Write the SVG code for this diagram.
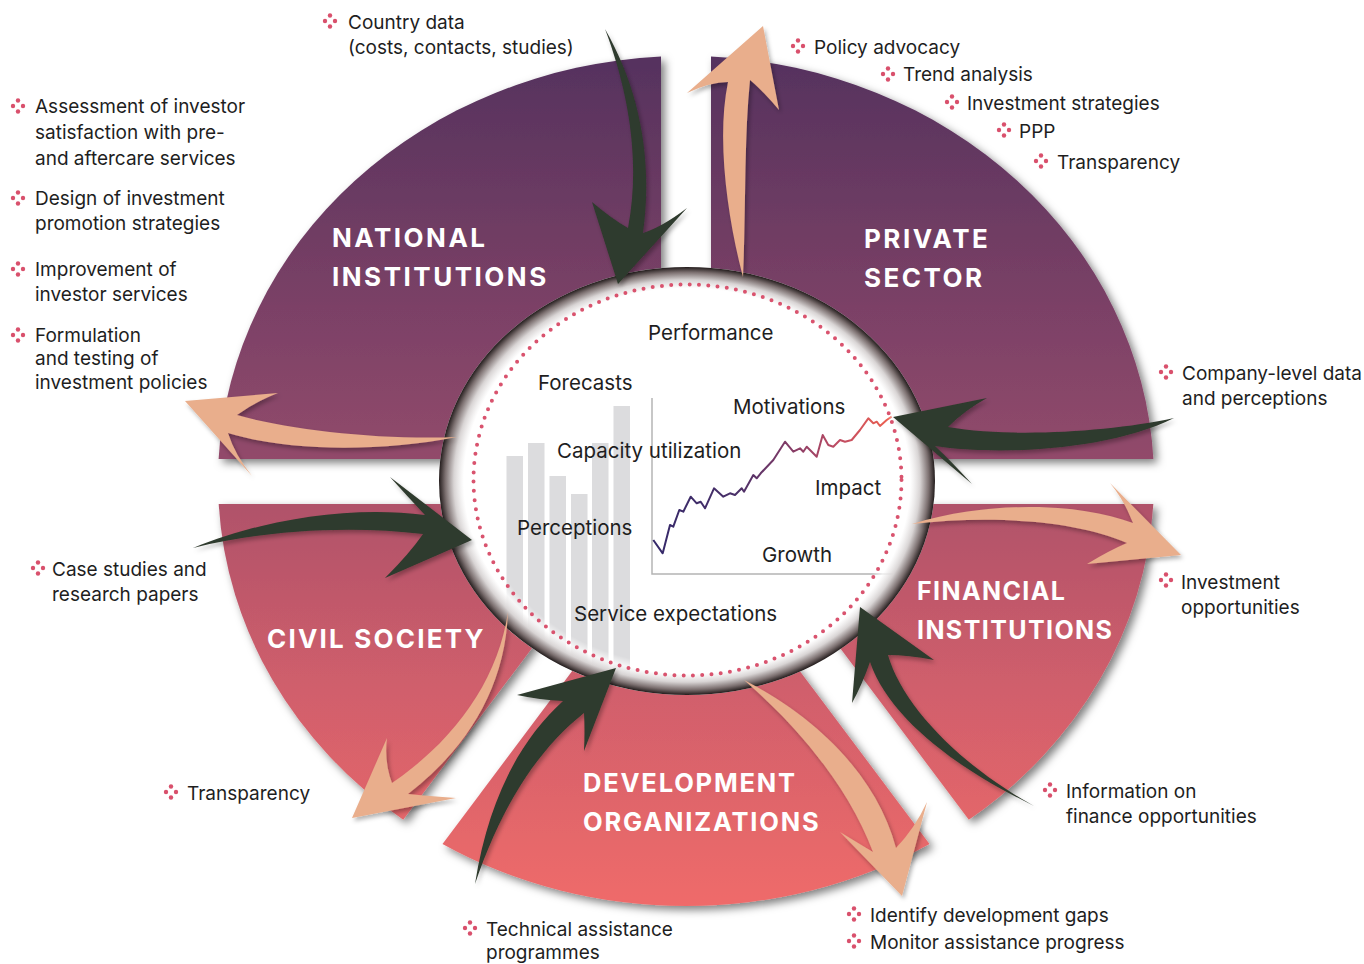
<svg xmlns="http://www.w3.org/2000/svg" width="1364" height="964" viewBox="0 0 1364 964">
<style>
.t{font-family:Inter,"Liberation Sans",sans-serif;font-size:19px;fill:#1e1e1e}
.c{font-family:Inter,"Liberation Sans",sans-serif;font-size:20.5px;fill:#1e1e1e}
.h{font-family:Inter,"Liberation Sans",sans-serif;font-size:26px;font-weight:700;fill:#ffffff;letter-spacing:2.5px}
.hs{font-size:25px;letter-spacing:1.4px}
.hd{font-size:25.5px;letter-spacing:1.8px}
.sec{fill:url(#sg);filter:url(#sh)}
.dk{fill:#2f3a2d;filter:url(#ash)}
.pc{fill:#e9ae8c;filter:url(#ash)}
.bar{fill:#dcdcde}
</style>
<defs>
<linearGradient id="sg" gradientUnits="userSpaceOnUse" x1="0" y1="55" x2="0" y2="905">
<stop offset="0" stop-color="#55325e"/>
<stop offset="0.476" stop-color="#924a6b"/>
<stop offset="0.529" stop-color="#b0526a"/>
<stop offset="0.75" stop-color="#d15f6c"/>
<stop offset="1" stop-color="#ef6b6a"/>
</linearGradient>
<filter id="sh" x="-10%" y="-10%" width="130%" height="130%">
<feDropShadow dx="4" dy="4" stdDeviation="4" flood-color="#000" flood-opacity="0.5"/>
</filter>
<filter id="ash" x="-20%" y="-20%" width="140%" height="140%">
<feDropShadow dx="2" dy="3" stdDeviation="2" flood-color="#000" flood-opacity="0.3"/>
</filter>
<radialGradient id="ring" cx="0.5" cy="0.5" r="0.5">
<stop offset="0" stop-color="#fff" stop-opacity="0"/>
<stop offset="0.86" stop-color="#fff" stop-opacity="0"/>
<stop offset="0.9" stop-color="#fff" stop-opacity="0.75"/>
<stop offset="0.94" stop-color="#d8d4d4"/>
<stop offset="0.975" stop-color="#7c7070"/>
<stop offset="1" stop-color="#231c1c"/>
</radialGradient>
<linearGradient id="lg" gradientUnits="userSpaceOnUse" x1="653" y1="0" x2="892" y2="0">
<stop offset="0" stop-color="#35296a"/>
<stop offset="0.35" stop-color="#4a3068"/>
<stop offset="0.55" stop-color="#7d3a67"/>
<stop offset="0.78" stop-color="#c04c62"/>
<stop offset="1" stop-color="#ef6250"/>
</linearGradient>
<clipPath id="cc"><ellipse cx="687" cy="481" rx="248" ry="214"/></clipPath>
<g id="bul" fill="#d9506c"><circle cx="0" cy="-5.5" r="2.2"/><circle cx="-5" cy="0" r="2.2"/><circle cx="5" cy="0" r="2.2"/><circle cx="0" cy="5.5" r="2.2"/></g>
</defs>
<rect width="1364" height="964" fill="#ffffff"/>

<g id="national">
<path class="sec" d="M661,459 L661,56.6 A468,425 0 0 0 218.6,459 Z"/>
<text class="h" x="332" y="247">NATIONAL</text>
<text class="h" x="332" y="286">INSTITUTIONS</text>
</g>
<g id="private">
<path class="sec" d="M711,459 L711,56.6 A468,425 0 0 1 1153.4,459 Z"/>
<text class="h" x="864" y="248">PRIVATE</text>
<text class="h" x="864" y="287">SECTOR</text>
</g>
<g id="civil">
<path class="sec" d="M640,504 L218.7,504 A468,425 0 0 0 403.2,819.7 Z"/>
<text class="h" x="267" y="648" style="letter-spacing:2.2px">CIVIL SOCIETY</text>
</g>
<g id="development">
<path class="sec" d="M686,519.3 L442.5,843.9 A468,425 0 0 0 929.5,843.9 Z"/>
<text class="h hd" x="583" y="792">DEVELOPMENT</text>
<text class="h hd" x="583" y="831">ORGANIZATIONS</text>
</g>
<g id="financial">
<path class="sec" d="M732,504 L1153.3,504 A468,425 0 0 1 968.8,819.7 Z"/>
<text class="h hs" x="917" y="600">FINANCIAL</text>
<text class="h hs" x="917" y="639">INSTITUTIONS</text>
</g>

<g id="hub">
<ellipse cx="687" cy="481" rx="248" ry="214" fill="#ffffff"/>
<g clip-path="url(#cc)">
<rect class="bar" x="506.5" y="456" width="16.5" height="260"/>
<rect class="bar" x="528" y="443" width="16.5" height="270"/>
<rect class="bar" x="549.5" y="476" width="16.5" height="240"/>
<rect class="bar" x="571" y="494" width="16.5" height="220"/>
<rect class="bar" x="592" y="443" width="16.5" height="270"/>
<rect class="bar" x="613.5" y="406" width="16.5" height="310"/>
<path d="M652,398 V574 H910" fill="none" stroke="#b4b4b4" stroke-width="1.5"/>
</g>
<polyline fill="none" stroke="url(#lg)" stroke-width="2" stroke-linejoin="round" points="653.3,540 662.7,553.3 670,525 673.3,526.7 679.3,510 683.3,511.7 690.7,496.7 696.7,503.3 700.7,501.7 705,508.3 714,488.3 723.3,496.7 730,493.3 735,495 741.7,488.3 744,491.7 753.3,475 756.7,478.3 760.7,473.3 773.3,460 785,441.7 793.3,451.7 800,448.3 803.3,451.7 806.7,446.7 810,450 816.7,456.7 822.7,435 828.3,445 833.3,446.7 840,440 845,441.7 851.7,440 860,430 868.3,418.3 873.3,423.3 876.7,421.7 880,426 886.7,420 891.7,416.7"/>
<ellipse cx="687" cy="481" rx="248" ry="214" fill="url(#ring)"/>
<ellipse cx="687.5" cy="480" rx="214" ry="195.5" fill="none" stroke="#d9536e" stroke-width="4" stroke-linecap="round" stroke-dasharray="0 9.3"/>
<text class="c" x="648" y="340">Performance</text>
<text class="c" x="538" y="390">Forecasts</text>
<text class="c" x="733" y="414">Motivations</text>
<text class="c" x="557" y="458">Capacity utilization</text>
<text class="c" x="815" y="495">Impact</text>
<text class="c" x="517" y="535">Perceptions</text>
<text class="c" x="762" y="562">Growth</text>
<text class="c" x="574" y="621">Service expectations</text>
</g>

<g id="connectors">
<path class="dk" d="M605,29 C628,90 641,160 628,228 Q612,219 592,202 L618,284 L687,208 Q662,227 643,233 C653,160 640,90 605,29 Z"/>
<path class="pc" d="M743,277 C728,220 716,140 728,82 Q710,82 687,93 L763,26 L779,110 Q762,90 750,80 C744,140 746,210 743,277 Z"/>
<path class="pc" d="M457,437 C380,440 290,430 237,415 Q255,402 278,393 L185,401 L252,476 Q235,455 228,433 C290,452 380,452 457,437 Z"/>
<path class="dk" d="M193,548 C260,520 350,505 425,515 Q408,497 390,477 L472,540 L385,578 Q410,553 423,534 C350,525 265,530 193,548 Z"/>
<path class="pc" d="M508,612 C498,680 455,740 392,783 Q384,762 387,738 L352,818 L456,798 Q428,796 408,794 C465,750 505,690 508,612 Z"/>
<path class="dk" d="M475,884 C488,800 520,740 563,701 Q540,700 517,695 L616,668 L584,751 Q585,730 584,713 C535,752 500,810 475,884 Z"/>
<path class="pc" d="M744,680 C800,728 850,790 873,852 Q858,843 840,832 L902,896 L927,802 Q915,828 896,848 C878,780 822,720 744,680 Z"/>
<path class="dk" d="M1034,806 C960,770 890,720 870,662 Q862,685 852,703 L860,607 L934,660 Q908,655 888,655 C902,705 960,765 1034,806 Z"/>
<path class="pc" d="M912,524 C990,500 1080,503 1133,523 Q1124,500 1110,483 L1181,555 L1087,564 Q1110,550 1127,543 C1075,520 990,515 912,524 Z"/>
<path class="dk" d="M1174,418 C1110,432 1010,438 948,427 Q965,410 987,398 L893,417 L972,484 Q950,460 935,446 C1000,456 1110,450 1174,418 Z"/>
</g>

<g id="labels">
<use href="#bul" x="18" y="106"/>
<text class="t" x="35" y="113">Assessment of investor</text>
<text class="t" x="35" y="139">satisfaction with pre-</text>
<text class="t" x="35" y="165">and aftercare services</text>
<use href="#bul" x="18" y="198"/>
<text class="t" x="35" y="205">Design of investment</text>
<text class="t" x="35" y="230">promotion strategies</text>
<use href="#bul" x="18" y="269"/>
<text class="t" x="35" y="276">Improvement of</text>
<text class="t" x="35" y="301">investor services</text>
<use href="#bul" x="18" y="335"/>
<text class="t" x="35" y="342">Formulation</text>
<text class="t" x="35" y="365">and testing of</text>
<text class="t" x="35" y="389">investment policies</text>
<use href="#bul" x="330" y="21"/>
<text class="t" x="348" y="29">Country data</text>
<text class="t" x="348" y="54">(costs, contacts, studies)</text>
<use href="#bul" x="798" y="46"/>
<text class="t" x="814" y="54">Policy advocacy</text>
<use href="#bul" x="888" y="74"/>
<text class="t" x="903" y="81">Trend analysis</text>
<use href="#bul" x="952" y="102"/>
<text class="t" x="967" y="110">Investment strategies</text>
<use href="#bul" x="1004" y="130"/>
<text class="t" x="1019" y="138">PPP</text>
<use href="#bul" x="1041" y="161"/>
<text class="t" x="1057" y="169">Transparency</text>
<use href="#bul" x="1166" y="372"/>
<text class="t" x="1182" y="380">Company-level data</text>
<text class="t" x="1182" y="405">and perceptions</text>
<use href="#bul" x="1166" y="580"/>
<text class="t" x="1181" y="589">Investment</text>
<text class="t" x="1181" y="614">opportunities</text>
<use href="#bul" x="1050" y="790"/>
<text class="t" x="1066" y="798">Information on</text>
<text class="t" x="1066" y="823">finance opportunities</text>
<use href="#bul" x="854" y="914"/>
<text class="t" x="870" y="922">Identify development gaps</text>
<use href="#bul" x="854" y="941"/>
<text class="t" x="870" y="949">Monitor assistance progress</text>
<use href="#bul" x="470" y="928"/>
<text class="t" x="486" y="936">Technical assistance</text>
<text class="t" x="486" y="959">programmes</text>
<use href="#bul" x="171" y="792"/>
<text class="t" x="187" y="800">Transparency</text>
<use href="#bul" x="38" y="568"/>
<text class="t" x="52" y="576">Case studies and</text>
<text class="t" x="52" y="601">research papers</text>
</g>
</svg>
